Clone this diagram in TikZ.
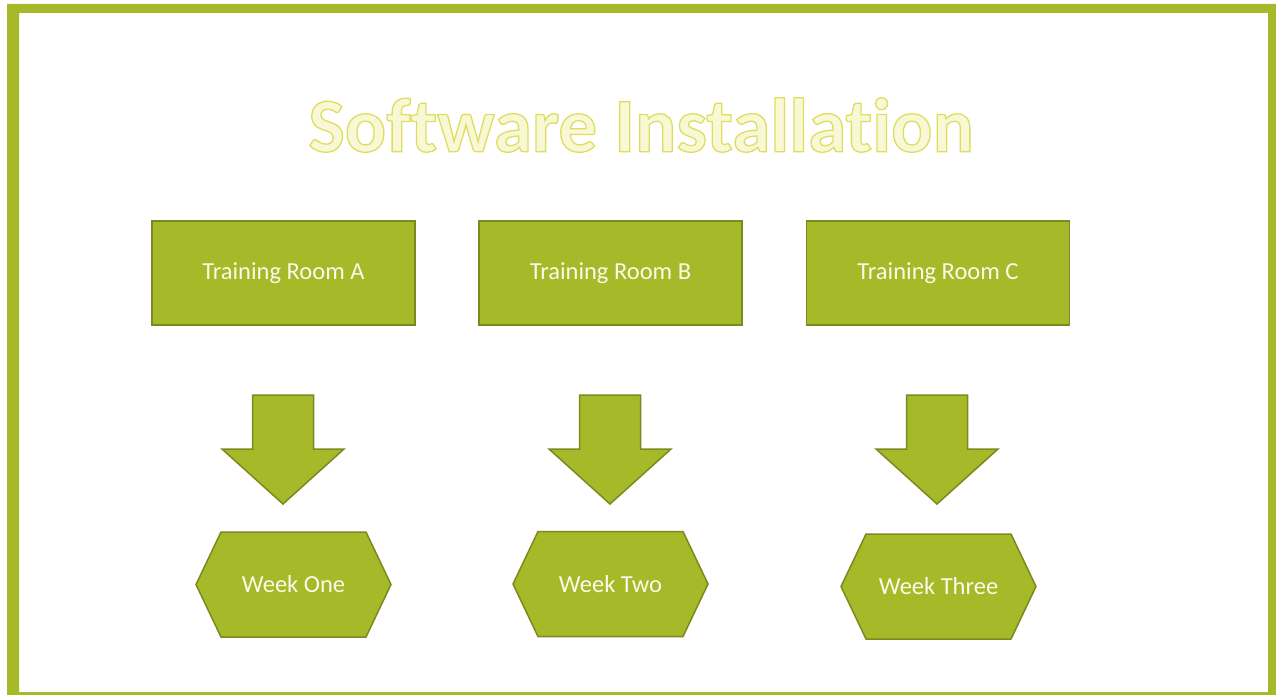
\documentclass[tikz,border=0pt]{standalone}
\usepackage{fontspec}
\setmainfont[Ligatures={NoCommon}]{Carlito}
\usetikzlibrary{calc}
\definecolor{olive}{RGB}{166,185,41}
\definecolor{olivedark}{RGB}{122,138,30}
\definecolor{titlefill}{RGB}{248,248,215}
\definecolor{boxtext}{RGB}{250,250,232}
\tikzset{
  roombox/.style={draw=olivedark, fill=olive, line width=1.5pt, minimum width=263pt, minimum height=104pt, text=boxtext, font=\fontsize{24.5}{28}\selectfont, inner sep=0pt},
  blockshape/.style={draw=olivedark, fill=olive, line width=1.5pt, line join=miter},
  weektext/.style={text=boxtext, font=\fontsize{24.5}{28}\selectfont, inner sep=0pt},
  titletext/.style={font=\fontsize{77}{84}\selectfont\bfseries, inner sep=0pt}
}
\newcommand{\outlinetitle}[1]{{\color{titlefill}\special{pdf:literal direct 2 Tr 1.3 w 0.87 0.87 0.36 RG}#1\special{pdf:literal direct 0 Tr}}}
\begin{document}
\begin{tikzpicture}[x=1pt,y=-1pt]
\useasboundingbox (0,0) rectangle (1276,695);
% frame
\fill[olive, even odd rule] (7,4) rectangle (1280,699) (19,13) rectangle (1268,692);
% title
\node[titletext] (title) at (641,125) {\outlinetitle{Software Installation}};
% rooms
\node[roombox] (ra) at (283.5,273) {Training Room A};
\node[roombox] (rb) at (610.5,273) {Training Room B};
\node[roombox] (rc) at (938,273) {Training Room C};
% block arrows
\foreach \cx/\nm in {283/aa,610/ab,937/ac}{
  \draw[blockshape] (\cx-30.5,395) -- (\cx+30.5,395) -- (\cx+30.5,449) -- (\cx+61,449)
     -- (\cx,504) coordinate (\nm) -- (\cx-61,449) -- (\cx-30.5,449) -- cycle;
}
% hexagons
\foreach \cx/\cy in {293.5/584.5,610.5/584,938.5/586.5}{
  \draw[blockshape] (\cx-97.5,\cy) -- (\cx-72.5,\cy-52.5) -- (\cx+72.5,\cy-52.5)
     -- (\cx+97.5,\cy) -- (\cx+72.5,\cy+52.5) -- (\cx-72.5,\cy+52.5) -- cycle;
}
\node[weektext] (wa) at (293.5,584.5) {Week One};
\node[weektext] (wb) at (610.5,584) {Week Two};
\node[weektext] (wc) at (938.5,586.5) {Week Three};
\end{tikzpicture}
\end{document}
